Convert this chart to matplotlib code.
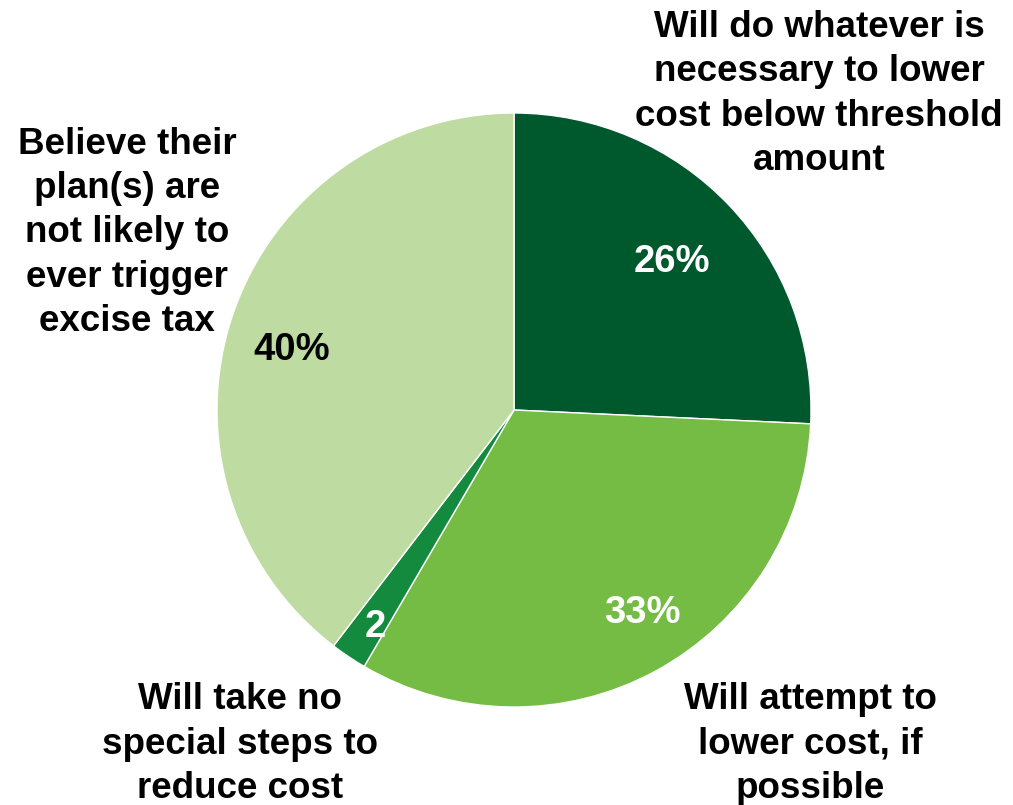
import matplotlib.pyplot as plt

# survey responses, clockwise from 12 o'clock
labels = [
    "Will do whatever is\nnecessary to lower\ncost below threshold\namount",
    "Will attempt to\nlower cost, if\npossible",
    "Will take no\nspecial steps to\nreduce cost",
    "Believe their\nplan(s) are\nnot likely to\never trigger\nexcise tax",
]
values = [26, 33, 2, 40]
value_texts = ["26%", "33%", "2", "40%"]
colors = ["#00582d", "#74bc44", "#138a3d", "#bedca2"]
value_colors = ["white", "white", "white", "black"]

plt.rcParams['font.family'] = ['Liberation Sans', 'DejaVu Sans']

fig = plt.figure(figsize=(10.13, 8.05), dpi=100)
ax = fig.add_axes([0, 0, 1, 1])

ax.pie(values, colors=colors, startangle=90, counterclock=False,
       center=(514, 395), radius=297,
       wedgeprops=dict(edgecolor="white", linewidth=1))

# pie() resets the limits, so set pixel-like coordinates afterwards
ax.set_xlim(0, 1013)
ax.set_ylim(0, 805)
ax.set_aspect('equal')
ax.axis('off')

# value labels inside the slices
value_pos = [(672, 543), (642, 192), (375, 178), (292, 455)]
for (x, y), t, c in zip(value_pos, value_texts, value_colors):
    ax.text(x, y, t, ha="center", va="center", fontsize=27.5,
            fontweight="bold", color=c)

# category labels around the pie
label_pos = [(819, 711), (810, 61), (240, 61), (127, 572)]
for (x, y), t in zip(label_pos, labels):
    ax.text(x, y, t, ha="center", va="center", fontsize=26.5,
            fontweight="bold", color="black", linespacing=1.34)

fig.savefig("out.png", dpi=100)
